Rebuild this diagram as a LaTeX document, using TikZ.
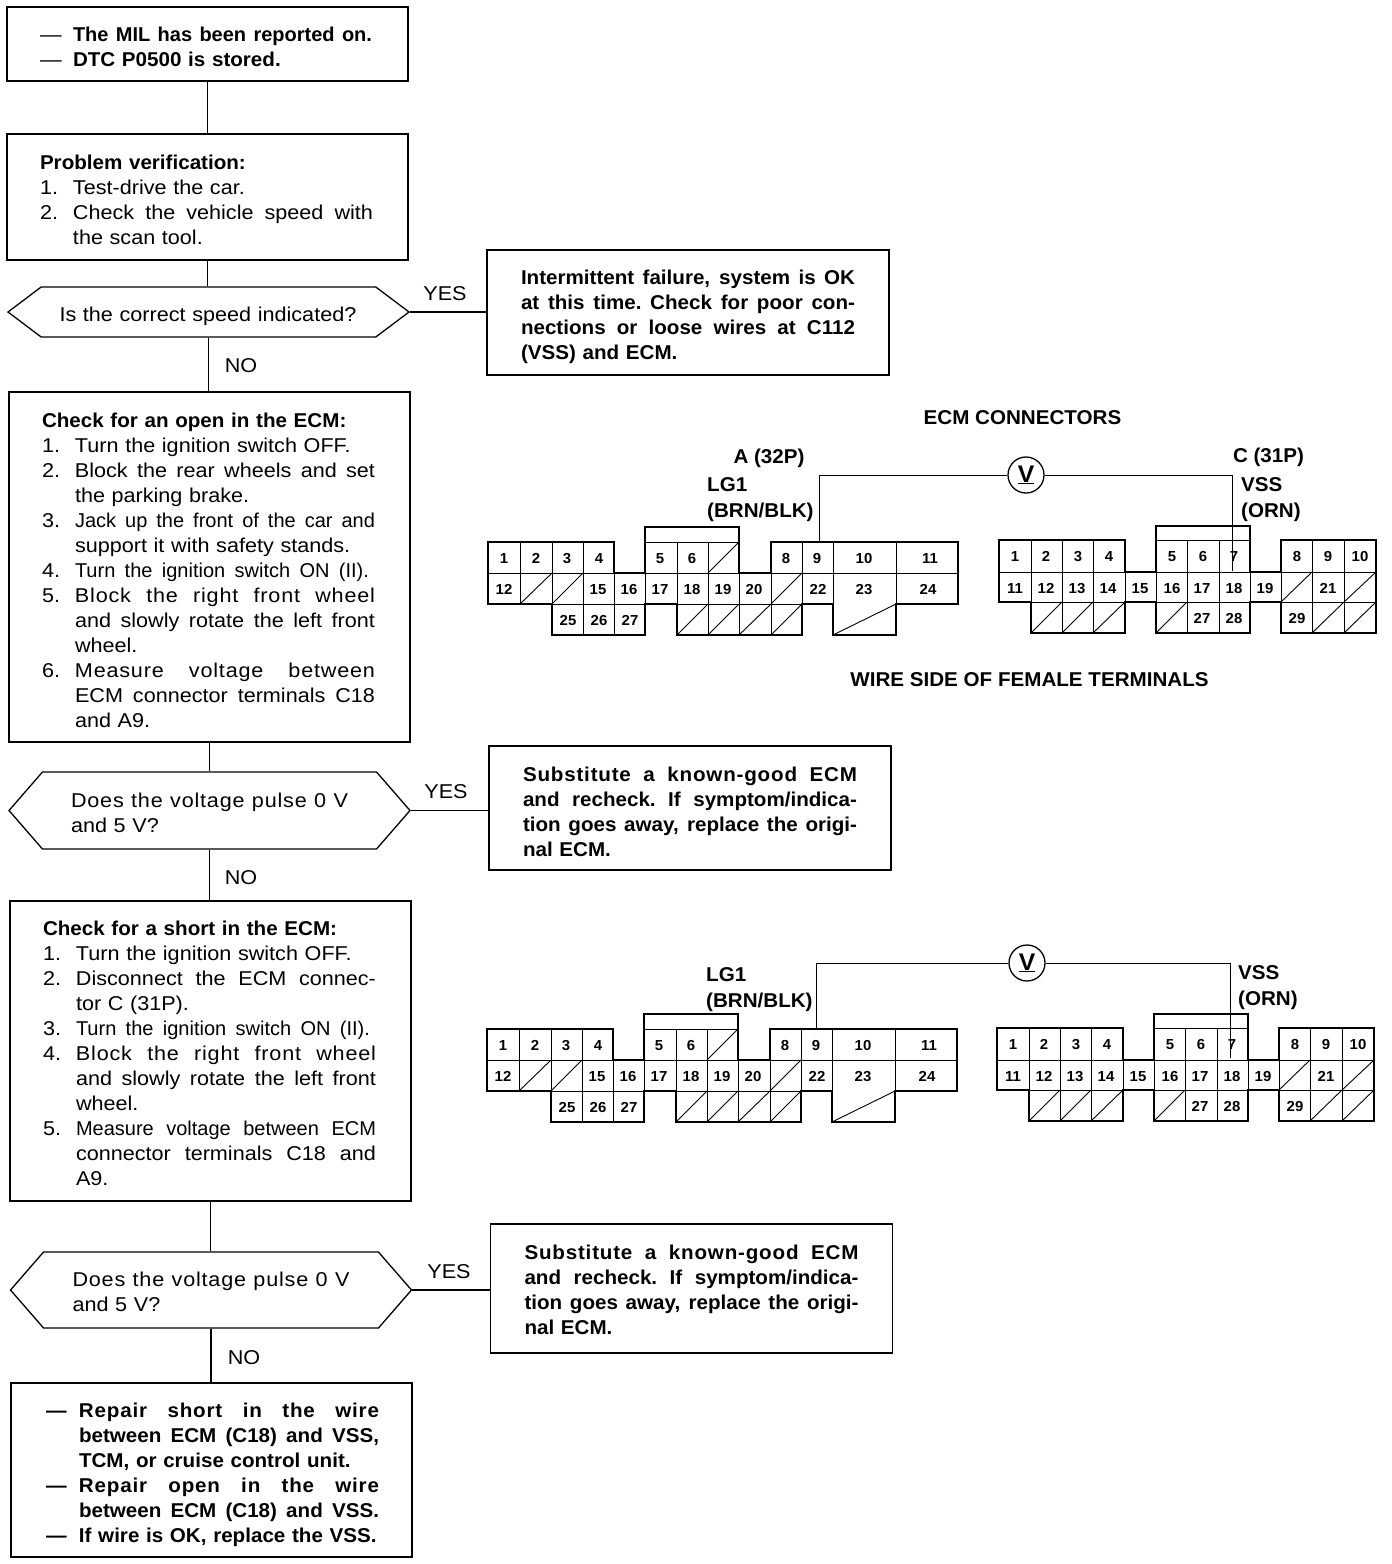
\documentclass[tikz,border=0pt]{standalone}
\usepackage{fontspec}
\setmainfont{Liberation Sans}[FakeStretch=1.08, BoldFeatures={FakeStretch=1.03}]
\newfontfamily\plainf{Liberation Sans}
\usepackage{tikz}
\usetikzlibrary{shapes.symbols}
\newcommand{\nm}[1]{\makebox[33pt][l]{#1}}
\newcommand{\hng}{\hspace*{33pt}}
\newcommand{\jw}[2]{\leavevmode\hbox to #1{\spaceskip=.28em plus 1fil\xspaceskip=.28em plus 1fil\relax #2}}
\newcommand{\jst}[1]{\jw{300pt}{#1}}
\newcommand{\jsl}[2][300pt]{\jw{#1}{\addfontfeature{LetterSpace=4}#2}}
\newcommand{\jsq}[1]{\jw{300pt}{\plainf #1}}
\newcommand{\jsr}[1]{\jw{334pt}{#1}}
\newcommand{\dsh}{\makebox[33pt][l]{—}}
\tikzset{
  dn/.style={execute at begin node={\rule{0pt}{\dimexpr 15pt+#1\relax}}},
  fbox/.style={draw, line width=1.3pt, inner xsep=33pt, inner ysep=0pt, text width=335pt, align=left,
               font=\fontsize{20}{25}\selectfont},
  rbox/.style={fbox, inner xsep=34pt, text width=334pt, font=\fontsize{20}{25}\selectfont\bfseries},
  hexa/.style={draw, line width=1.3pt, signal, signal to=west and east, signal pointer angle=74,
               inner sep=0pt, minimum width=401pt, align=left, font=\fontsize{20}{25}\selectfont},
  lbl/.style={inner sep=0pt, font=\fontsize{20}{25}\selectfont},
  ttl/.style={inner sep=0pt, anchor=west, align=left, font=\fontsize{20}{26}\selectfont\bfseries},
  pinno/.style={inner sep=0pt, text height=10.4pt, text depth=0pt, font=\fontsize{14.5}{14.5}\selectfont\bfseries},
  outl/.style={line width=2.4pt, line join=miter},
  cell/.style={line width=0.9pt},
  wire/.style={line width=1.2pt},
  vmeter/.style={draw, circle, line width=1.3pt, minimum size=36pt, inner sep=0pt,
                 font=\fontsize{24}{24}\selectfont\bfseries}
}
% connector A, 32 pins
\newcommand{\ecmA}[3]{
  \begin{scope}[shift={(#2,#3)}]
    \foreach \x in {520,552,583,677,708,802,833,896} \draw[cell] (\x,542) -- (\x,573);
    \foreach \x in {520,552,583,614,645,677,708,739,771,802,833,896} \draw[cell] (\x,573) -- (\x,604);
    \foreach \x in {583,614,708,739,771} \draw[cell] (\x,604) -- (\x,635);
    \draw[cell] (488,573) -- (958,573); \draw[cell] (645,542) -- (739,542);
    \draw[cell] (552,604) -- (645,604); \draw[cell] (677,604) -- (833,604);
    \foreach \a/\b/\c/\d in {708/573/739/542,520/604/552/573,552/604/583/573,771/604/802/573,
        677/635/708/604,708/635/739/604,739/635/771/604,771/635/802/604,833/635/896/604}
      \draw[cell] (\a,\b) -- (\c,\d);
    \draw[outl] (488,542) -- (614,542) -- (614,573) -- (645,573) -- (645,527) -- (739,527) -- (739,573)
      -- (771,573) -- (771,542) -- (958,542) -- (958,604) -- (896,604) -- (896,635) -- (833,635)
      -- (833,604) -- (802,604) -- (802,635) -- (677,635) -- (677,604) -- (645,604) -- (645,635)
      -- (552,635) -- (552,604) -- (488,604) -- cycle;
    \foreach \n/\x in {1/504,2/536,3/567,4/599,5/660,6/692,8/786,9/817,10/864,11/930}
      \node[pinno] (#1\n) at (\x,558) {\n};
    \foreach \n/\x in {12/504,15/598,16/629,17/660,18/692,19/723,20/754,22/818,23/864,24/928}
      \node[pinno] (#1\n) at (\x,589) {\n};
    \foreach \n/\x in {25/568,26/599,27/630}
      \node[pinno] (#1\n) at (\x,620) {\n};
  \end{scope}}
% connector C, 31 pins
\newcommand{\ecmC}[3]{
  \begin{scope}[shift={(#2,#3)}]
    \foreach \x in {1031,1062,1093,1187,1219,1312,1344} \draw[cell] (\x,540) -- (\x,572);
    \foreach \x in {1031,1062,1093,1125,1156,1187,1219,1250,1281,1312,1344} \draw[cell] (\x,572) -- (\x,602);
    \foreach \x in {1062,1093,1187,1219,1312,1344} \draw[cell] (\x,602) -- (\x,633);
    \draw[cell] (999,572) -- (1376,572); \draw[cell] (1156,540) -- (1250,540);
    \draw[cell] (1031,602) -- (1125,602); \draw[cell] (1156,602) -- (1250,602); \draw[cell] (1281,602) -- (1376,602);
    \foreach \a/\b/\c/\d in {1281/602/1312/572,1344/602/1376/572,1031/633/1062/602,1062/633/1093/602,
        1093/633/1125/602,1156/633/1187/602,1312/633/1344/602,1344/633/1376/602}
      \draw[cell] (\a,\b) -- (\c,\d);
    \draw[outl] (999,540) -- (1125,540) -- (1125,572) -- (1156,572) -- (1156,526) -- (1250,526) -- (1250,572)
      -- (1281,572) -- (1281,540) -- (1376,540) -- (1376,633) -- (1281,633) -- (1281,602) -- (1250,602)
      -- (1250,633) -- (1156,633) -- (1156,602) -- (1125,602) -- (1125,633) -- (1031,633) -- (1031,602)
      -- (999,602) -- cycle;
    \foreach \n/\x in {1/1015,2/1046,3/1078,4/1109,5/1172,6/1203,7/1234,8/1297,9/1328,10/1360}
      \node[pinno] (#1\n) at (\x,556) {\n};
    \foreach \n/\x in {11/1015,12/1046,13/1077,14/1108,15/1140,16/1172,17/1202,18/1234,19/1265,21/1328}
      \node[pinno] (#1\n) at (\x,588) {\n};
    \foreach \n/\x in {27/1202,28/1234,29/1297}
      \node[pinno] (#1\n) at (\x,618) {\n};
  \end{scope}}
\begin{document}
\begin{tikzpicture}[x=1pt, y=-1pt]
  \useasboundingbox (0,0) rectangle (1392,1564);
  % flow, left column
  \node[fbox, dn=6pt, minimum height=74pt] (mil) at (207.5,44) {\dsh\jw{299pt}{\plainf\bfseries The MIL has been reported on.}\\\dsh\textbf{DTC P0500 is stored.}};
  \node[fbox, dn=6pt, minimum height=126pt] (verif) at (207.5,197) {\textbf{Problem verification:}\\
    \nm{1.}Test-drive the car.\\\nm{2.}\jst{Check the vehicle speed with}\\\hng the scan tool.};
  \node[hexa, dn=8pt, text width=298pt, minimum height=50pt] (q1) at (208.5,312) {Is the correct speed indicated?};
  \node[rbox, dn=8pt, minimum height=125pt] (ok) at (688,312.5) {\jsr{Intermittent failure, system is OK}\\
    \jsr{at this time. Check for poor con-}\\\jsr{nections or loose wires at C112}\\(VSS) and ECM.};
  \node[fbox, dn=6pt, minimum height=350pt] (open) at (209.5,567) {\textbf{Check for an open in the ECM:}\\
    \nm{1.}Turn the ignition switch OFF.\\
    \nm{2.}\jst{Block the rear wheels and set}\\\hng the parking brake.\\
    \nm{3.}\jsq{Jack up the front of the car and}\\\hng support it with safety stands.\\
    \nm{4.}\jw{294pt}{\plainf Turn the ignition switch ON (II).}\\
    \nm{5.}\jsl{Block the right front wheel}\\\hng\jst{and slowly rotate the left front}\\\hng wheel.\\
    \nm{6.}\jsl{Measure voltage between}\\\hng\jst{ECM connector terminals C18}\\\hng and A9.};
  \node[hexa, dn=4pt, text width=277pt, minimum height=77pt, signal pointer angle=98] (q2) at (209.5,810.5) {\jsl[277pt]{Does the voltage pulse 0 V}\\and 5 V?};
  \node[rbox, dn=8pt, minimum height=124pt] (sub1) at (690,808) {\jsl[334pt]{Substitute a known-good ECM}\\
    \jsr{and recheck. If symptom/indica-}\\\jsr{tion goes away, replace the origi-}\\nal ECM.};
  \node[fbox, dn=5pt, minimum height=300pt] (short) at (210.5,1051) {\textbf{Check for a short in the ECM:}\\
    \nm{1.}Turn the ignition switch OFF.\\
    \nm{2.}\jst{Disconnect the ECM connec-}\\\hng tor C (31P).\\
    \nm{3.}\jw{294pt}{\plainf Turn the ignition switch ON (II).}\\
    \nm{4.}\jsl{Block the right front wheel}\\\hng\jst{and slowly rotate the left front}\\\hng wheel.\\
    \nm{5.}\jsq{Measure voltage between ECM}\\\hng\jst{connector terminals C18 and}\\\hng A9.};
  \node[hexa, dn=4pt, text width=277pt, minimum height=76pt, signal pointer angle=98] (q3) at (211,1290) {\jsl[277pt]{Does the voltage pulse 0 V}\\and 5 V?};
  \node[rbox, dn=2pt, minimum height=129pt] (sub2) at (691.5,1288.5) {\jsl[334pt]{Substitute a known-good ECM}\\
    \jsr{and recheck. If symptom/indica-}\\\jsr{tion goes away, replace the origi-}\\nal ECM.};
  \node[fbox, dn=10pt, inner xsep=35pt, text width=331pt, minimum height=174pt, font=\fontsize{20}{25}\selectfont\bfseries] (fix) at (211.5,1470) {\dsh\jsl{Repair short in the wire}\\
    \hng\jst{between ECM (C18) and VSS,}\\\hng TCM, or cruise control unit.\\
    \dsh\jsl{Repair open in the wire}\\\hng\jst{between ECM (C18) and VSS.}\\\dsh If wire is OK, replace the VSS.};
  \draw[wire] (mil.south) -- (verif.north);
  \draw[wire] (verif.south) -- (verif.south |- q1.north);
  \draw[wire] (q1.south) -- (q1.south |- open.north);
  \draw[wire] (open.south) -- (open.south |- q2.north);
  \draw[wire] (q2.south) -- (q2.south |- short.north);
  \draw[wire] (short.south) -- (short.south |- q3.north);
  \draw[wire] (q3.south) -- (q3.south |- fix.north);
  \draw[wire] (q1.east) -- (q1.east -| ok.west);
  \draw[wire] (q2.east) -- (q2.east -| sub1.west);
  \draw[wire] (q3.east) -- (q3.east -| sub2.west);
  \node[lbl] (y1) at (445,293.5) {YES};
  \node[lbl] (n1) at (241,365.5) {NO};
  \node[lbl] (y2) at (446,791.5) {YES};
  \node[lbl] (n2) at (241,877.5) {NO};
  \node[lbl] (y3) at (449,1271.5) {YES};
  \node[lbl] (n3) at (244,1357.5) {NO};
  % connectors, upper pair
  \node[ttl, anchor=center] (head) at (1022.5,418) {ECM CONNECTORS};
  \node[ttl, anchor=center] (side) at (1029.5,680) {WIRE SIDE OF FEMALE TERMINALS};
  \node[ttl, anchor=center] (aname) at (769,458) {A (32P)};
  \node[ttl, anchor=center] (cname) at (1268.5,457) {C (31P)};
  \ecmA{a}{0}{0}
  \ecmC{c}{0}{0}
  \node[ttl] (lg1) at (707,500) {LG1\\(BRN/BLK)};
  \node[ttl] (vss) at (1241,500) {VSS\\(ORN)};
  \node[vmeter] (vm) at (1026,475) {\underline{V}};
  \coordinate (aend) at (819,541);
  \coordinate (cend) at (1232,571);
  \draw[line width=1pt] (aend) |- (vm.west);
  \draw[line width=1pt] (vm.east) -| (cend);
  % connectors, lower pair
  \ecmA{p}{-1}{487}
  \ecmC{r}{-2}{488}
  \node[ttl] (lg2) at (706,990) {LG1\\(BRN/BLK)};
  \node[ttl] (vss2) at (1238,988) {VSS\\(ORN)};
  \node[vmeter] (vb) at (1027,963) {\underline{V}};
  \coordinate (pend) at (816,1028);
  \coordinate (rend) at (1230,1058);
  \draw[line width=1pt] (pend) |- (vb.west);
  \draw[line width=1pt] (vb.east) -| (rend);
\end{tikzpicture}
\end{document}
